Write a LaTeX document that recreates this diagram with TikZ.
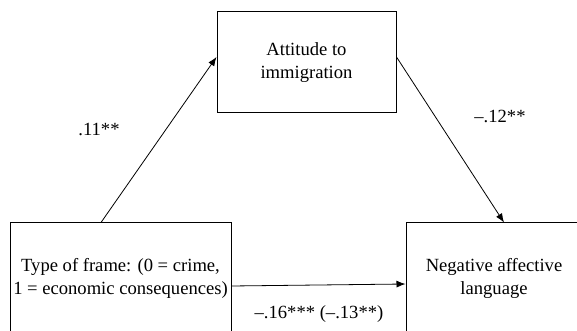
\documentclass[tikz,border=0pt]{standalone}
\usepackage{fontspec}
\setmainfont{Liberation Serif}
\usetikzlibrary{arrows.meta}
\tikzstyle{factor}=[rectangle, draw, line width=0.5pt, align=center, inner sep=0pt, font=\fontsize{9.3}{11.4}\selectfont]
\tikzstyle{coef}=[inner sep=0pt, font=\fontsize{9.3}{11.4}\selectfont]

\begin{document}
\begin{tikzpicture}[x=0.5pt, y=0.5pt, line width=0.4pt, >={Latex[length=4.5pt, width=3.5pt]}]
                    \useasboundingbox (0,0) rectangle (577,331);
                    \clip (0,0) rectangle (577,331);
                    \node[factor, minimum width=89.5pt, minimum height=50.5pt] (attitude) at (306.5, 268.5) {Attitude to\\immigration};
                    \node[factor, minimum width=110.5pt, minimum height=55.5pt] (frame) at (120.5, 52.5) {Type of frame: (0 = crime,\\1 = economic consequences)};
                    \node[factor, minimum width=88pt, minimum height=55.5pt] (language) at (494, 52.5) {Negative affective\\language};
                    \draw[->] ([xshift=-9.75pt]frame.north) -- ([yshift=2.75pt]attitude.west);
                    \draw[->] ([yshift=2.75pt]attitude.east) -- ([xshift=5pt]language.north);
                    \draw[->] ([yshift=-3.75pt]frame.east) -- ([yshift=-2.75pt]language.west);
                    \node[coef] (a) at (99, 202) {.11**};
                    \node[coef] (b) at (500, 215) {\textendash.12**};
                    \node[coef] (c) at (319, 17) {\textendash.16*** (\textendash.13**)};
                \end{tikzpicture}
\end{document}
